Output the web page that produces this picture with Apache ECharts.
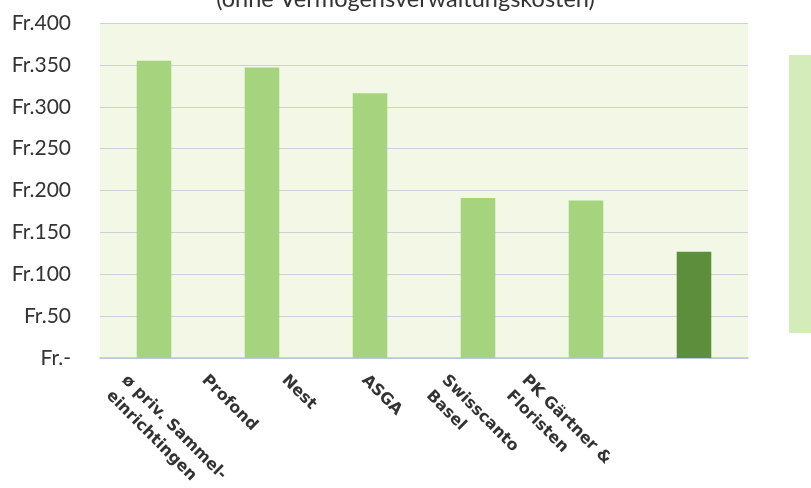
<!DOCTYPE html>
<html>
<head>
<meta charset="utf-8">
<script src="https://cdn.jsdelivr.net/npm/echarts@6/dist/echarts.min.js"></script>
<style>
html,body{margin:0;padding:0;background:#fff;}
#chart{width:811px;height:488px;}
</style>
</head>
<body>
<div id="chart"></div>
<script>
const titleText = '(ohne Vermögensverwaltungskosten)';
const categories = ['ø priv. Sammel-\neinrichtingen', 'Profond', 'Nest', 'ASGA', 'Swisscanto\nBasel', 'PK Gärtner &\nFloristen'];
const values = [355, 347, 316, 191, 188, 127];
const barColors = ['#a6d47e', '#a6d47e', '#a6d47e', '#a6d47e', '#a6d47e', '#5d8e3b'];
const yTicks = [0, 50, 100, 150, 200, 250, 300, 350, 400];
const yTickLabels = ['Fr.-', 'Fr.50', 'Fr.100', 'Fr.150', 'Fr.200', 'Fr.250', 'Fr.300', 'Fr.350', 'Fr.400'];

const chart = echarts.init(document.getElementById('chart'), null, {renderer: 'canvas'});
const option = {
  animation: false,
  backgroundColor: '#ffffff',
  grid: [
    {left: 100, right: 63, top: 23, bottom: 130, show: true, backgroundColor: '#f3f8e6', borderWidth: 0, outerBoundsMode: 'none'},
    {left: 92, right: 239, top: 23, bottom: 130, show: false, outerBoundsMode: 'none'}
  ],
  graphic: [
    {type: 'text', left: 'center', top: -13, style: {text: titleText, font: '23.5px Lato', fill: '#333'}},
    {type: 'rect', shape: {x: 789, y: 55, width: 22, height: 278}, style: {fill: '#d3ecb9'}}
  ],
  xAxis: [
    {
      type: 'category', gridIndex: 0, data: categories,
      axisLine: {show: true, lineStyle: {color: '#b7c6dd', width: 1.5}},
      axisTick: {show: false},
      axisLabel: {show: false}
    },
    {
      type: 'category', gridIndex: 1, data: categories,
      axisLine: {show: false}, axisTick: {show: false},
      axisLabel: {
        show: true, interval: 0, rotate: -45, margin: 12,
        align: 'left', verticalAlign: 'top',
        fontFamily: 'DejaVu Sans', fontWeight: 'bold', fontSize: 16, lineHeight: 22, color: '#333'
      }
    }
  ],
  yAxis: [
    {
      type: 'value', gridIndex: 0, min: 0, max: 400, interval: 50,
      axisLine: {show: false}, axisTick: {show: false},
      splitLine: {show: true, lineStyle: {color: '#cfcfd8', width: 1}},
      axisLabel: {
        margin: 29, fontFamily: 'Lato', fontSize: 21, color: '#333',
        formatter: function (v) { const i = yTicks.indexOf(v); return i >= 0 ? yTickLabels[i] : ''; }
      }
    },
    {type: 'value', gridIndex: 1, min: 0, max: 400, show: false}
  ],
  series: [
    {
      type: 'bar', xAxisIndex: 0, yAxisIndex: 0, barWidth: '32%',
      data: values.map((v, i) => ({value: v, itemStyle: {color: barColors[i]}}))
    }
  ]
};
chart.setOption(option);
</script>
</body>
</html>
